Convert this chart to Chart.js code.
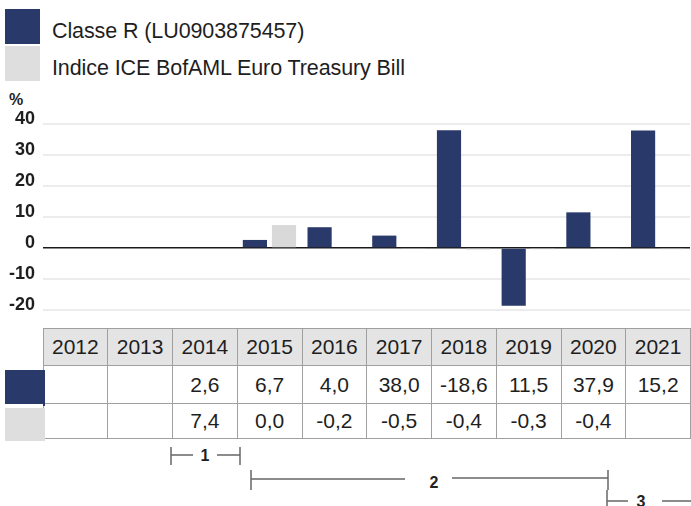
<!DOCTYPE html>
<html>
<head>
<meta charset="utf-8">
<script src="https://cdn.jsdelivr.net/npm/chart.js@4"></script>
<style>
  body { margin: 0; width: 691px; height: 506px; background: #fff; position: relative; overflow: hidden;
         font-family: "Liberation Sans", Arial, sans-serif; color: #1e1e1e; }
  #legend { position: absolute; left: 5px; top: 8px; }
  .leg-item { display: flex; align-items: center; height: 37px; }
  .leg-box { width: 35px; height: 35px; margin-right: 12px; }
  .leg-text { font-size: 21.5px; padding-top: 9px; letter-spacing: -0.1px; }
  #pct { position: absolute; left: 9px; top: 91px; font-size: 16px; font-weight: bold; }
  #perfChart { position: absolute; left: 0; top: 85px; }
  #tbl { position: absolute; left: 0; top: 328px; border-collapse: collapse; table-layout: fixed; width: 691px; }
  #tbl td { border: 1px solid #a0a0a0; text-align: center; font-size: 21px; padding: 0; }
  #tbl tr.head td { background: #e4e4e4; height: 36px; }
  #tbl tr.r1 td { height: 37px; }
  #tbl tr.r2 td { height: 34px; }
  #tbl tr td.sw { border: none; background: #fff; position: relative; }
  #tbl td.sw div { position: absolute; left: 5px; top: 4px; right: -2px; bottom: -2px; }
  #notes { position: absolute; left: 0; top: 440px; }
  #notes text { font-family: "Liberation Sans", Arial, sans-serif; font-size: 16px; font-weight: bold; fill: #222; }
</style>
</head>
<body>
<div id="legend"></div>
<div id="pct">%</div>
<canvas id="perfChart" width="691" height="240"></canvas>
<table id="tbl"></table>
<svg id="notes" width="691" height="66">
  <g stroke="#666" stroke-width="1.5" fill="none">
    <line x1="171" y1="7" x2="171" y2="25"/><line x1="171" y1="15" x2="193" y2="15"/>
    <line x1="217" y1="15" x2="240" y2="15"/><line x1="240" y1="7" x2="240" y2="25"/>
    <line x1="251" y1="30" x2="251" y2="50"/><line x1="251" y1="39" x2="405" y2="39"/>
    <line x1="452" y1="38" x2="608" y2="38"/><line x1="608" y1="30" x2="608" y2="50"/>
    <line x1="607" y1="50" x2="607" y2="66"/><line x1="607" y1="61" x2="628" y2="61"/>
    <line x1="662" y1="61" x2="691" y2="61"/>
  </g>
  <text x="205" y="21" text-anchor="middle">1</text>
  <text x="434" y="48" text-anchor="middle">2</text>
  <text x="641" y="67" text-anchor="middle">3</text>
</svg>
<script>
// Table years and the yearly returns (%)
const years = ['2012', '2013', '2014', '2015', '2016', '2017', '2018', '2019', '2020', '2021'];
const classR = [null, null, 2.6, 6.7, 4.0, 38.0, -18.6, 11.5, 37.9, 15.2];
const indexTB = [null, null, 7.4, 0.0, -0.2, -0.5, -0.4, -0.3, -0.4, null];
const seriesNames = ['Classe R (LU0903875457)', 'Indice ICE BofAML Euro Treasury Bill'];
const seriesColors = ['#28396a', '#dedede'];
// the bar axis in the picture sits one column right of the table
const plotYears = ['2011', '2012', '2013', '2014', '2015', '2016', '2017', '2018', '2019', '2020'];
const yTicks = [40, 30, 20, 10, 0, -10, -20];

function fmt(v) {
    return v === null ? '' : v.toFixed(1).replace('.', ',');
}

// legend
var legend = document.getElementById('legend');
seriesNames.forEach(function(name, i) {
    var item = document.createElement('div');
    item.className = 'leg-item';
    item.innerHTML = '<div class="leg-box" style="background:' + seriesColors[i] + '"></div>' +
                     '<span class="leg-text">' + name + '</span>';
    legend.appendChild(item);
});

// table under the chart
var tbl = document.getElementById('tbl');
var html = '<colgroup><col style="width:43px">';
years.forEach(function() { html += '<col>'; });
html += '</colgroup><tr class="head"><td class="sw"></td>';
years.forEach(function(y) { html += '<td>' + y + '</td>'; });
html += '</tr>';
[classR, indexTB].forEach(function(row, i) {
    html += '<tr class="r' + (i + 1) + '"><td class="sw"><div style="background:' + seriesColors[i] + '"></div></td>';
    row.forEach(function(v) { html += '<td>' + fmt(v) + '</td>'; });
    html += '</tr>';
});
tbl.innerHTML = html;

function toPoints(values) {
    var pts = [];
    years.forEach(function(y, i) {
        if (values[i] !== null && plotYears.indexOf(y) >= 0) pts.push({ x: y, y: values[i] });
    });
    return pts;
}

var ctx = document.getElementById('perfChart').getContext('2d');
var perfChart = new Chart(ctx, {
    type: 'bar',
    data: {
        labels: plotYears,
        datasets: [{
            label: seriesNames[0],
            data: toPoints(classR),
            backgroundColor: seriesColors[0]
        }, {
            label: seriesNames[1],
            data: toPoints(indexTB),
            backgroundColor: '#d9d9d9'
        }]
    },
    options: {
        responsive: false,
        animation: false,
        layout: { padding: { top: 39, bottom: 15, right: 1 } },
        categoryPercentage: 0.9,
        barPercentage: 0.83,
        plugins: {
            legend: { display: false },
            tooltip: { enabled: false }
        },
        scales: {
            x: { display: false },
            y: {
                min: -20,
                max: 40,
                afterBuildTicks: function(axis) {
                    axis.ticks = yTicks.map(function(v) { return { value: v }; });
                },
                afterFit: function(axis) {
                    axis.width = 43;
                    axis.paddingTop = 0;
                    axis.paddingBottom = 0;
                },
                border: { display: false },
                grid: {
                    drawTicks: false,
                    lineWidth: function(c) { return c.tick && c.tick.value === 0 ? 1.5 : 2; },
                    color: function(c) { return c.tick && c.tick.value === 0 ? '#1a1a1a' : '#ececec'; }
                },
                ticks: {
                    color: '#1e1e1e',
                    padding: 8,
                    labelOffset: -5,
                    font: { family: 'Liberation Sans', size: 18, weight: 'bold' },
                    callback: function(v) { return v; }
                }
            }
        }
    }
});
</script>
</body>
</html>
